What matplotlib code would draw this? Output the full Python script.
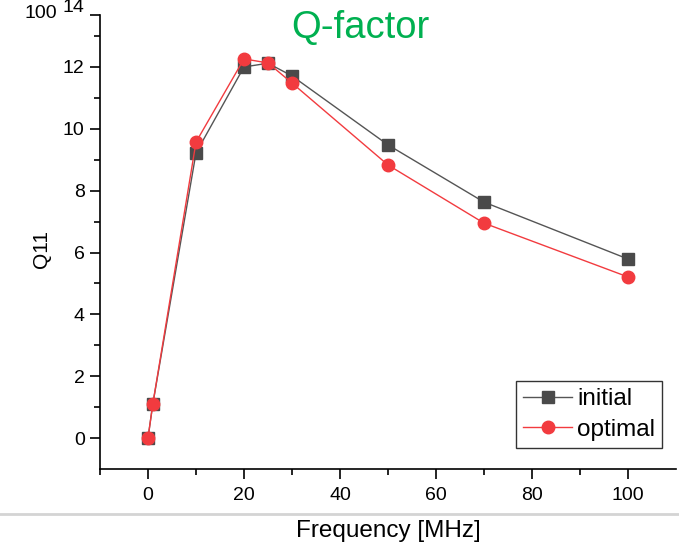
import matplotlib
matplotlib.use("Agg")
import matplotlib.pyplot as plt
import matplotlib.transforms as mtransforms
from matplotlib.lines import Line2D
from matplotlib.ticker import FixedLocator, MultipleLocator

plt.rcParams["font.family"] = ["Liberation Sans", "DejaVu Sans"]

freq = [0, 1, 10, 20, 25, 30, 50, 70, 100]
q_initial = [0.0, 1.10, 9.22, 12.0, 12.12, 11.71, 9.48, 7.63, 5.79]
q_optimal = [0.0, 1.10, 9.57, 12.26, 12.13, 11.48, 8.83, 6.95, 5.21]

y_major = [0, 2, 4, 6, 8, 10, 12, 13.68]
y_labels = ["0", "2", "4", "6", "8", "10", "12", "14"]

fig = plt.figure(figsize=(6.79, 5.48), dpi=100)
ax = fig.add_axes([100 / 679, 1 - 469 / 548, 576 / 679, 454 / 548])

ax.plot(freq, q_initial, color="#555555", linewidth=1.0, marker="s",
        markersize=8, markerfacecolor="#4a4a4a", markeredgecolor="#4a4a4a",
        label="initial")
ax.plot(freq, q_optimal, color="#f23b3f", linewidth=1.0, marker="o",
        markersize=9, markerfacecolor="#f23b3f", markeredgecolor="#f23b3f",
        label="optimal")

ax.set_xlim(-10, 110)
ax.set_ylim(-1, 13.68)
ax.spines["top"].set_visible(False)
ax.spines["right"].set_visible(False)

ax.xaxis.set_major_locator(MultipleLocator(20))
ax.xaxis.set_minor_locator(FixedLocator([-10, 10, 30, 50, 70, 90]))
ax.yaxis.set_major_locator(FixedLocator(y_major))
ax.set_yticklabels(y_labels)
ax.yaxis.set_minor_locator(FixedLocator([1, 3, 5, 7, 9, 11, 13]))
ax.tick_params(which="major", direction="out", length=7, width=1.2,
               labelsize=14, pad=4)
ax.tick_params(axis="x", which="major", pad=6)
ax.tick_params(which="minor", direction="out", length=4, width=1.2)
for s in ax.spines.values():
    s.set_linewidth(1.2)

# top label "14" sits at the clipped end of the axis
top_lbl = ax.get_yticklabels()[-1]
top_lbl.set_va("baseline")
top_lbl.set_transform(top_lbl.get_transform() + mtransforms.ScaledTranslation(
    0, 2 / 72, fig.dpi_scale_trans))

ax.set_ylabel("Q11", fontsize=15)
ax.yaxis.set_label_coords(-0.085, 0.485)
ax.set_xlabel("Frequency [MHz]", fontsize=17.5)
ax.xaxis.set_label_coords(0.5, -0.113)

leg = ax.legend(loc="lower right", bbox_to_anchor=(0.976, 0.046),
                borderaxespad=0, fontsize=17.5, handlelength=2.0,
                handletextpad=0.2, borderpad=0.3, labelspacing=0.35,
                fancybox=False, framealpha=1)
leg.get_frame().set_edgecolor("#333333")
leg.get_frame().set_linewidth(1.0)

fig.text(360 / 679, 1 - 28 / 548, "Q-factor", color="#00b050", fontsize=27.5,
         ha="center", va="center")
fig.text(41 / 679, 1 - 13 / 548, "100", fontsize=14, ha="center", va="center")
fig.add_artist(Line2D([0, 1], [1 - 514 / 548, 1 - 514 / 548],
                      color="#d4d4d4", linewidth=2))

fig.savefig("out.png", dpi=100)
